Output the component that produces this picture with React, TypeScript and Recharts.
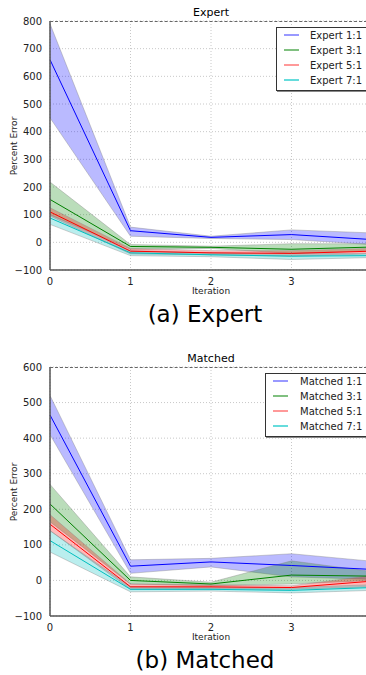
import React from 'react';
import { ComposedChart, Area, Line, XAxis, YAxis, CartesianGrid } from 'recharts';

const iterations = [0, 1, 2, 3, 4];
const iterationTicks = [0, 1, 2, 3];

// Expert
const expertNames = ['Expert 1:1', 'Expert 3:1', 'Expert 5:1', 'Expert 7:1'];
const expertMean = [
  [660, 42, 18, 28, 10],
  [155, -15, -18, -25, -17],
  [110, -32, -38, -40, -32],
  [88, -38, -45, -50, -48],
];
const expertLow = [
  [450, 22, 14, 10, -8],
  [100, -25, -22, -40, -30],
  [95, -42, -45, -50, -42],
  [65, -48, -52, -62, -55],
];
const expertHigh = [
  [790, 55, 22, 45, 34],
  [218, -8, -14, -5, -5],
  [125, -22, -30, -30, -22],
  [100, -30, -38, -40, -40],
];

// Matched
const matchedNames = ['Matched 1:1', 'Matched 3:1', 'Matched 5:1', 'Matched 7:1'];
const matchedMean = [
  [465, 40, 52, 42, 31],
  [215, 0, -10, 15, 12],
  [158, -18, -18, -20, -2],
  [112, -25, -25, -28, -20],
];
const matchedLow = [
  [410, 20, 38, 10, 3],
  [165, -10, -15, -10, 0],
  [140, -25, -24, -25, -18],
  [80, -32, -30, -35, -28],
];
const matchedHigh = [
  [520, 58, 62, 75, 54],
  [270, 10, -5, 55, 25],
  [185, -10, -12, -15, 14],
  [140, -18, -20, -20, -12],
];

const expertTicks = [-100, 0, 100, 200, 300, 400, 500, 600, 700, 800];
const matchedTicks = [-100, 0, 100, 200, 300, 400, 500, 600];

const lineColors = ['#0000ff', '#008000', '#ff0000', '#00bfbf'];
const fillColors = ['#0000ff', '#008000', '#ff0000', '#00bfbf'];
const legendColors = ['#9999ff', '#80c080', '#ff9999', '#66dcdc'];

const font = '"DejaVu Sans", sans-serif';

const buildRows = (mean: number[][], low: number[][], high: number[][]) =>
  iterations.map((it, i) => {
    const row: any = { it };
    mean.forEach((m, s) => {
      row['m' + s] = m[i];
      row['b' + s] = [low[s][i], high[s][i]];
    });
    return row;
  });

const fmt = (v: number) => String(v).replace('-', '\u2212');

interface PanelProps {
  top: number;
  title: string;
  caption: string;
  names: string[];
  rows: any[];
  ticks: number[];
  legendLeft: number;
  legendWidth: number;
  textGap: number;
}

const Panel: React.FC<PanelProps> = ({ top, title, caption, names, rows, ticks, legendLeft, legendWidth, textGap }) => {
  const plotTop = 21;
  const plotBottom = 270;
  return (
    <div style={{ position: 'absolute', left: 0, top, width: 366, height: 340 }}>
      <div style={{ position: 'absolute', left: 50, width: 322, top: 6, textAlign: 'center', fontSize: 11, fontFamily: font, color: '#000' }}>
        {title}
      </div>
      <div style={{ position: 'absolute', left: 0, top: 0 }}>
        <ComposedChart
          width={380}
          height={300}
          data={rows}
          margin={{ top: plotTop, right: 8, left: 0, bottom: 300 - plotBottom - 20 }}
        >
          <CartesianGrid stroke="#c8c8c8" strokeDasharray="1 2" />
          <XAxis
            dataKey="it"
            type="number"
            domain={[0, 4]}
            ticks={iterationTicks}
            height={20}
            tick={{ fontSize: 10, fill: '#222', fontFamily: font }}
            tickLine={false}
            axisLine={{ stroke: '#555', strokeWidth: 1.5 }}
            tickMargin={2}
          />
          <YAxis
            type="number"
            domain={[ticks[0], ticks[ticks.length - 1]]}
            ticks={ticks}
            width={50}
            interval={0}
            tickFormatter={fmt}
            tick={{ fontSize: 10, fill: '#222', fontFamily: font }}
            tickLine={false}
            axisLine={{ stroke: '#555', strokeWidth: 1.5 }}
            tickMargin={2}
          />
          {names.map((n, s) => (
            <Area
              key={'b' + s}
              type="linear"
              dataKey={'b' + s}
              fill={fillColors[s]}
              fillOpacity={0.27}
              stroke="#888"
              strokeOpacity={0.4}
              strokeWidth={1}
              isAnimationActive={false}
              dot={false}
              activeDot={false}
            />
          ))}
          {names.map((n, s) => (
            <Line
              key={'m' + s}
              type="linear"
              dataKey={'m' + s}
              stroke={lineColors[s]}
              strokeWidth={1}
              dot={false}
              isAnimationActive={false}
            />
          ))}
        </ComposedChart>
      </div>
      <div style={{ position: 'absolute', left: 50, top: plotTop, width: 322, height: 0, borderTop: '1px dashed #666' }} />
      <div
        style={{
          position: 'absolute',
          left: 14,
          top: (plotTop + plotBottom) / 2,
          transform: 'translate(-50%, -50%) rotate(-90deg)',
          fontSize: 9,
          fontFamily: font,
          whiteSpace: 'nowrap',
          color: '#222',
        }}
      >
        Percent Error
      </div>
      <div style={{ position: 'absolute', left: 50, width: 322, top: plotBottom + 16, textAlign: 'center', fontSize: 9, fontFamily: font, color: '#222' }}>
        Iteration
      </div>
      <div style={{ position: 'absolute', left: 50, width: 310, top: plotBottom + 31, textAlign: 'center', fontSize: 23, fontFamily: font, color: '#000' }}>
        {caption}
      </div>
      <div
        style={{
          position: 'absolute',
          left: legendLeft,
          top: 27,
          width: legendWidth,
          height: 62,
          border: '1px solid #333',
          background: '#fff',
          boxShadow: '1px 1px 0 #888',
          fontFamily: font,
          fontSize: 10,
        }}
      >
        {names.map((n, s) => (
          <div key={n} style={{ position: 'absolute', top: 0 + s * 15, left: 7, height: 14, display: 'flex', alignItems: 'center' }}>
            <div style={{ width: 15, height: 2, background: legendColors[s], marginRight: textGap }} />
            <span style={{ color: '#222', whiteSpace: 'nowrap' }}>{n}</span>
          </div>
        ))}
      </div>
    </div>
  );
};

const App: React.FC = () => {
  const expertRows = buildRows(expertMean, expertLow, expertHigh);
  const matchedRows = buildRows(matchedMean, matchedLow, matchedHigh);
  return (
    <div style={{ position: 'fixed', left: 0, top: 0, width: 366, height: 675, overflow: 'hidden', background: '#fff' }}>
      <Panel
        top={0}
        title="Expert"
        caption="(a) Expert"
        names={expertNames}
        rows={expertRows}
        ticks={expertTicks}
        legendLeft={276}
        legendWidth={100}
        textGap={11}
      />
      <Panel
        top={346}
        title="Matched"
        caption="(b) Matched"
        names={matchedNames}
        rows={matchedRows}
        ticks={matchedTicks}
        legendLeft={265}
        legendWidth={110}
        textGap={12}
      />
    </div>
  );
};

export default App;
